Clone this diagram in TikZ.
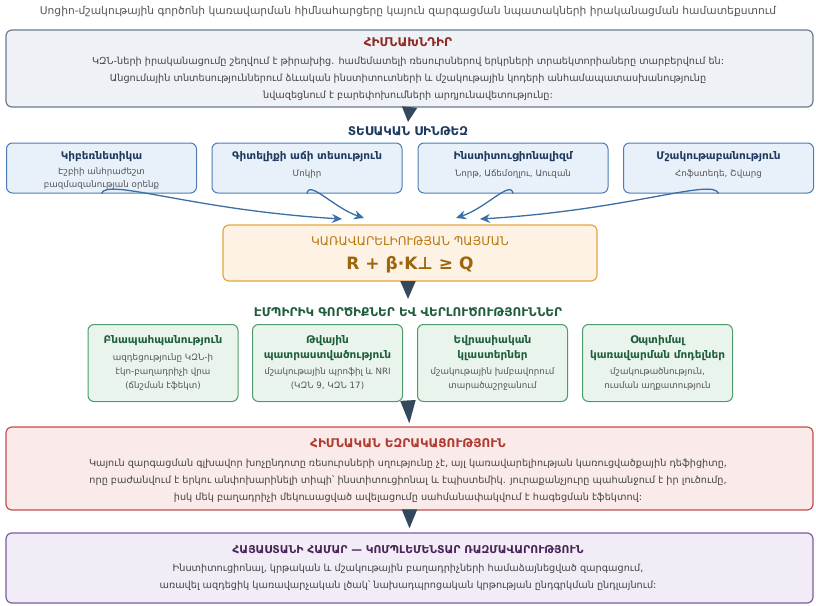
\documentclass[tikz,border=0pt]{standalone}
\usepackage{fontspec}
\setmainfont{DejaVu Sans}
\usetikzlibrary{arrows.meta}

\definecolor{headgray}{HTML}{555555}
\definecolor{bodygray}{HTML}{444444}
\definecolor{navyarrow}{HTML}{34495E}
\definecolor{probfill}{HTML}{EEF1F5}
\definecolor{probdraw}{HTML}{6B7B8C}
\definecolor{probtext}{HTML}{8E2A22}
\definecolor{theofill}{HTML}{E8F0F9}
\definecolor{theodraw}{HTML}{4A7DB5}
\definecolor{theotext}{HTML}{1F3A5F}
\definecolor{theoarrow}{HTML}{3A6EA5}
\definecolor{condfill}{HTML}{FDF2E3}
\definecolor{conddraw}{HTML}{E5A443}
\definecolor{condtext}{HTML}{B9770E}
\definecolor{empfill}{HTML}{E9F5EC}
\definecolor{empdraw}{HTML}{4F9A6B}
\definecolor{emptext}{HTML}{1E5E3A}
\definecolor{concfill}{HTML}{FBEAEA}
\definecolor{concdraw}{HTML}{C0504D}
\definecolor{conctext}{HTML}{B03A2E}
\definecolor{stratfill}{HTML}{F1ECF6}
\definecolor{stratdraw}{HTML}{7D5BA6}
\definecolor{strattext}{HTML}{4A235A}

\tikzset{
  box/.style={draw, rounded corners=6pt, line width=1.2pt, inner sep=0pt},
  bodytext/.style={text=bodygray, align=center, font=\fontsize{9.7}{17}\selectfont},
  smalltext/.style={text=headgray, align=center, font=\fontsize{8.7}{12.5}\selectfont},
  boxtitle/.style={align=center, font=\bfseries\fontsize{10.5}{15}\selectfont},
  captitle/.style={align=center, font=\bfseries\fontsize{12}{15}\selectfont},
  darrow/.style={draw=navyarrow, line width=2pt, -{Triangle[width=15pt,length=#1]}},
  darrow/.default=15pt,
  barrow/.style={draw=theoarrow, line width=1.3pt, -{Stealth[length=10pt,width=9pt]}},
}

\begin{document}
\begin{tikzpicture}[x=1pt, y=-1pt]
  \useasboundingbox (0,0) rectangle (816,605);

  % Draw the title
  \node[text=headgray, font=\fontsize{10.7}{12}\selectfont] (title) at (408,12)
    {Սոցիո-մշակութային գործոնի կառավարման հիմնահարցերը կայուն զարգացման նպատակների իրականացման համատեքստում};

  % Draw the problem box
  \node[box, draw=probdraw, fill=probfill, minimum width=807pt, minimum height=77pt] (problem) at (409.5,68.5) {};
  \node[captitle, text=probtext] (problemtitle) at (408,42.5) {ՀԻՄՆԱԽՆԴԻՐ};
  \node[bodytext] (problemtext) at (408,78.5)
    {ԿԶՆ-ների իրականացումը շեղվում է թիրախից. համեմատելի ռեսուրսներով երկրների տրաեկտորիաները տարբերվում են:\\
     Անցումային տնտեսություններում ձևական ինստիտուտների և մշակութային կոդերի անհամապատասխանությունը\\
     նվազեցնում է բարեփոխումների արդյունավետությունը:};

  % Draw the theory row
  \coordinate (theotop) at (408,122);
  \draw[darrow] (problem.south) -- (theotop);
  \node[captitle, text=theotext] (theolabel) at (408,131) {ՏԵՍԱԿԱՆ ՍԻՆԹԵԶ};

  \node[box, draw=theodraw, fill=theofill, line width=1pt, minimum width=190pt, minimum height=50pt] (cyber) at (101.5,168) {};
  \node[box, draw=theodraw, fill=theofill, line width=1pt, minimum width=190pt, minimum height=50pt] (growth) at (307,168) {};
  \node[box, draw=theodraw, fill=theofill, line width=1pt, minimum width=190pt, minimum height=50pt] (instit) at (513,168) {};
  \node[box, draw=theodraw, fill=theofill, line width=1pt, minimum width=190pt, minimum height=50pt] (culture) at (718.5,168) {};

  \node[boxtitle, text=theotext] (cybertitle) at (101.5,157) {Կիբեռնետիկա};
  \node[smalltext] (cybertext) at (101.5,178.5) {Էշբիի անհրաժեշտ\\բազմազանության օրենք};
  \node[boxtitle, text=theotext] (growthtitle) at (307,157) {Գիտելիքի աճի տեսություն};
  \node[smalltext] (growthtext) at (307,174) {Մոկիր};
  \node[boxtitle, text=theotext] (instittitle) at (513,157) {Ինստիտուցիոնալիզմ};
  \node[smalltext] (instittext) at (513,174) {Նորթ, Աճեմօղլու, Աուզան};
  \node[boxtitle, text=theotext] (culturetitle) at (718.5,157) {Մշակութաբանություն};
  \node[smalltext] (culturetext) at (718.5,174) {Հոֆստեդե, Շվարց};

  % Draw the condition box
  \node[box, draw=conddraw, fill=condfill, minimum width=374pt, minimum height=56pt] (cond) at (410,253) {};
  \node[text=condtext, font=\fontsize{12}{14}\selectfont] (condtitle) at (410,241) {ԿԱՌԱՎԱՐԵԼԻՈՒԹՅԱՆ ՊԱՅՄԱՆ};
  \node[text=condtext!85!black, font=\bfseries\fontsize{17}{20}\selectfont] (formula) at (410,264.5) {R + β·K⊥ ≥ Q};

  % Draw the curved arrows into the condition box
  \coordinate (in1) at (342,219);
  \coordinate (in2) at (364,218);
  \coordinate (in3) at (456,218);
  \coordinate (in4) at (480,219);
  \draw[barrow] (cyber.south) .. controls +(5,-16) and +(-150,-9) .. (in1);
  \draw[barrow] (growth.south) .. controls +(2,-14) and +(-30,-10) .. (in2);
  \draw[barrow] (instit.south) .. controls +(-2,-14) and +(30,-10) .. (in3);
  \draw[barrow] (culture.south) .. controls +(-5,-16) and +(150,-9) .. (in4);

  % Draw the empirical row
  \coordinate (emptop) at (408,299);
  \draw[darrow=18pt] (cond.south -| emptop) -- (emptop);
  \node[captitle, text=emptext] (emplabel) at (408,312) {ԷՄՊԻՐԻԿ ԳՈՐԾԻՔՆԵՐ ԵՎ ՎԵՐԼՈՒԾՈՒԹՅՈՒՆՆԵՐ};

  \node[box, draw=empdraw, fill=empfill, line width=1pt, minimum width=150pt, minimum height=77pt] (ecology) at (163,363) {};
  \node[box, draw=empdraw, fill=empfill, line width=1pt, minimum width=150pt, minimum height=77pt] (digital) at (327.5,363) {};
  \node[box, draw=empdraw, fill=empfill, line width=1pt, minimum width=150pt, minimum height=77pt] (eurasia) at (492.5,363) {};
  \node[box, draw=empdraw, fill=empfill, line width=1pt, minimum width=150pt, minimum height=77pt] (optimal) at (657.5,363) {};

  \node[boxtitle, text=emptext] (ecologytitle) at (163,341) {Բնապահպանություն};
  \node[smalltext, font=\fontsize{8.7}{14}\selectfont] (ecologytext) at (163,372) {ազդեցությունը ԿԶՆ-ի\\էկո-բաղադրիչի վրա\\(ճնշման էֆեկտ)};
  \node[boxtitle, text=emptext] (digitaltitle) at (327.5,348) {Թվային\\պատրաստվածություն};
  \node[smalltext, font=\fontsize{8.7}{14}\selectfont] (digitaltext) at (327.5,379) {մշակութային պրոֆիլ և NRI\\(ԿԶՆ 9, ԿԶՆ 17)};
  \node[boxtitle, text=emptext] (eurasiatitle) at (492.5,348) {Եվրասիական\\կլաստերներ};
  \node[smalltext, font=\fontsize{8.7}{14}\selectfont] (eurasiatext) at (492.5,379) {մշակութային խմբավորում\\տարածաշրջանում};
  \node[boxtitle, text=emptext] (optimaltitle) at (657.5,348) {Օպտիմալ\\կառավարման մոդելներ};
  \node[smalltext, font=\fontsize{8.7}{14}\selectfont] (optimaltext) at (657.5,379) {մշակութածնություն,\\ուսման աղքատություն};

  % Draw the conclusion box
  \node[box, draw=concdraw, fill=concfill, minimum width=807pt, minimum height=83pt] (conc) at (409.5,468.5) {};
  \coordinate (empbot) at (408,401);
  \draw[darrow=23pt, shorten >=3pt] (empbot) -- (conc.north);
  \node[captitle, text=conctext] (conctitle) at (408,443) {ՀԻՄՆԱԿԱՆ ԵԶՐԱԿԱՑՈՒԹՅՈՒՆ};
  \node[bodytext] (conctext) at (408,481)
    {Կայուն զարգացման գլխավոր խոչընդոտը ռեսուրսների սղությունը չէ, այլ կառավարելիության կառուցվածքային դեֆիցիտը,\\
     որը բաժանվում է երկու անփոխարինելի տիպի՝ ինստիտուցիոնալ և էպիստեմիկ. յուրաքանչյուրը պահանջում է իր լուծումը,\\
     իսկ մեկ բաղադրիչի մեկուսացված ավելացումը սահմանափակվում է հագեցման էֆեկտով:};

  % Draw the strategy box
  \node[box, draw=stratdraw, fill=stratfill, minimum width=807pt, minimum height=70pt] (strat) at (409.5,568) {};
  \draw[darrow=19pt, shorten >=4pt] (conc.south) -- (strat.north);
  \node[captitle, text=strattext, font=\bfseries\fontsize{10.8}{14}\selectfont] (strattitle) at (408,550) {ՀԱՅԱՍՏԱՆԻ ՀԱՄԱՐ — ԿՈՄՊԼԵՄԵՆՏԱՐ ՌԱԶՄԱՎԱՐՈՒԹՅՈՒՆ};
  \node[bodytext] (strattext) at (408,577)
    {Ինստիտուցիոնալ, կրթական և մշակութային բաղադրիչների համաձայնեցված զարգացում,\\
     առավել ազդեցիկ կառավարչական լծակ՝ նախադպրոցական կրթության ընդգրկման ընդլայնում:};
\end{tikzpicture}
\end{document}
